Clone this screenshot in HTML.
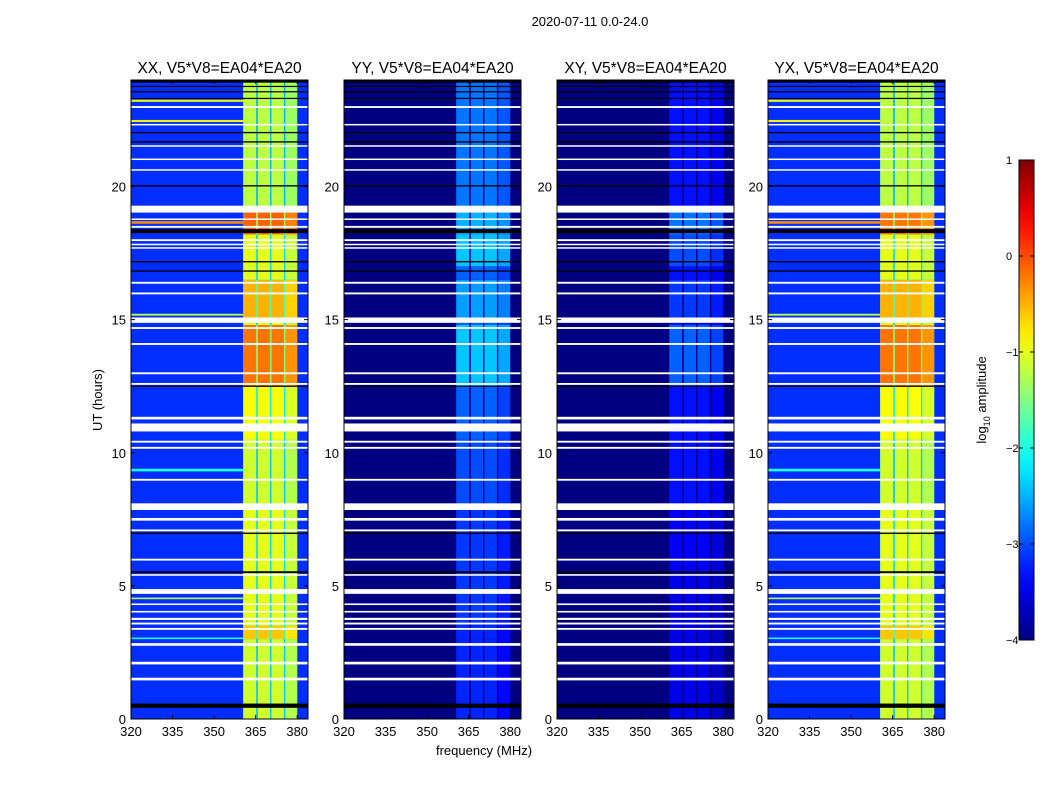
<!DOCTYPE html>
<html><head><meta charset="utf-8"><style>
body{margin:0;background:#fff;}
svg text{font-family:"Liberation Sans","DejaVu Sans",sans-serif;}
</style></head><body>
<svg id="fig" width="1050" height="800" xmlns="http://www.w3.org/2000/svg"></svg>
<script>
const panelNames=["XX, V5*V8=EA04*EA20","YY, V5*V8=EA04*EA20","XY, V5*V8=EA04*EA20","YX, V5*V8=EA04*EA20"];
const panelLeft=[131,344,557,768];
const xTicks=[320,335,350,365,380];
const yTicks=[0,5,10,15,20];
const cbTicks=[1,0,-1,-2,-3,-4];
const segBounds=[0,3,3.5,5.5,8,10.5,12.5,14.8,15,16.5,17,18.2,19.2,24];
const bandXX=[-1.1,-0.6,-1,-1,-1.1,-0.9,-0.2,-1,-0.5,-1,-1,-0.1,-1.2];
const bandYY=[-3.2,-3.2,-3.1,-3.1,-3.0,-2.9,-2.4,-2.9,-2.6,-2.9,-2.4,-2.5,-2.8];
const bandXY=[-3.5,-3.5,-3.5,-3.4,-3.3,-3.3,-2.9,-3.3,-3.1,-3.3,-3.0,-2.8,-3.3];
const bandYX=[-1.1,-0.6,-1,-1,-1.1,-0.9,-0.2,-1,-0.5,-1,-1,-0.2,-1.2];
const bgLevel=[-3.15,-4,-4,-3.15];
const subBands=[[360.5,365.2],[365.8,370.2],[370.7,375.2],[375.7,380]];
const rfiRows=[[23.18,23.26,-1],[22.42,22.5,-0.8],[18.6,18.7,-0.3],[15.15,15.22,-1.2],[9.3,9.4,-2],[4.5,4.56,-1.2],[3.0,3.06,-2]];
const whiteFlags=[[1.45,1.55],[2.05,2.15],[2.75,2.85],[3.35,3.42],[3.55,3.62],[3.72,3.8],[4.0,4.06],[4.28,4.34],[4.7,4.88],[5.38,5.44],[5.95,6.02],[7.05,7.12],[7.45,7.55],[7.85,8.1],[8.95,9.02],[10.15,10.22],[10.38,10.45],[10.8,11.1],[11.25,11.35],[12.55,12.62],[12.95,13.02],[14.05,14.12],[14.65,14.72],[14.88,15.08],[15.95,16.02],[16.35,16.42],[17.68,17.72],[17.8,17.85],[17.95,18.02],[18.45,18.52],[18.75,18.8],[19.02,19.28],[20.6,20.65],[21.0,21.05],[21.5,21.55],[22.3,22.35],[22.95,23.02]];
const blackFlags=[[0.42,0.58],[5.48,5.55],[6.95,7.0],[12.48,12.52],[16.8,16.85],[17.15,17.2],[18.25,18.4],[20.0,20.05],[21.65,21.7],[22.0,22.05],[23.3,23.33],[23.55,23.58],[23.75,23.78],[23.9,24]];
const bands=[bandXX,bandYY,bandXY,bandYX];

const NS="http://www.w3.org/2000/svg";
const svg=document.getElementById('fig');
const PW=177, TOP=80, BOT=719, FMIN=320, FMAX=383.9, HMAX=24;
function mk(tag,attrs,parent){const e=document.createElementNS(NS,tag);for(const k in attrs)e.setAttribute(k,attrs[k]);(parent||svg).appendChild(e);return e;}
function clip(v){return Math.max(0,Math.min(1,v));}
function jet(v){const t=clip((v+4)/5);const r=clip(1.5-Math.abs(4*t-3)),g=clip(1.5-Math.abs(4*t-2)),b=clip(1.5-Math.abs(4*t-1));return `rgb(${Math.round(r*255)},${Math.round(g*255)},${Math.round(b*255)})`;}
function yS(h){return BOT-(h/HMAX)*(BOT-TOP);}

const title=mk('text',{x:590,y:26,'font-size':13,'text-anchor':'middle'});
title.textContent="2020-07-11 0.0-24.0";



for(let p=0;p<4;p++){
  const L=panelLeft[p];
  const xS=f=>L+(f-FMIN)/(FMAX-FMIN)*PW;
  const g=mk('g',{});
  
  
  const bg=mk('rect',{x:L,y:TOP,width:PW,height:BOT-TOP,fill:jet(bgLevel[p])},g);
  
  
  if(p===0||p===3){
    for(const r of rfiRows){
      const e=mk('rect',{x:L,y:yS(r[1]),width:xS(360.5)-L,height:yS(r[0])-yS(r[1]),fill:jet(r[2])},g);
      
      
    }
  }
  for(let s=0;s<segBounds.length-1;s++){
    const v=bands[p][s];
    const y1=yS(segBounds[s+1]),y0=yS(segBounds[s]);
    const st=mk('rect',{x:xS(360.5),y:y1,width:xS(380)-xS(360.5),height:y0-y1,fill:jet(v-1.3)},g);
    
    
    subBands.forEach((sb,i)=>{
      const c=mk('rect',{x:xS(sb[0]),y:y1,width:xS(sb[1])-xS(sb[0]),height:y0-y1,fill:jet(v-(i===3?0.15:0))},g);
      
      
    });
  }
  for(const f of whiteFlags){
    const e=mk('rect',{x:L,y:yS(f[1]),width:PW,height:Math.max(1.5,yS(f[0])-yS(f[1])),fill:'#fff'},g);
    
    
  }
  for(const f of blackFlags){
    const e=mk('rect',{x:L,y:yS(f[1]),width:PW,height:Math.max(1.2,yS(f[0])-yS(f[1])),fill:'#000'},g);
    
    
  }
  const fr=mk('rect',{x:L,y:TOP,width:PW,height:BOT-TOP,fill:'none',stroke:'#000','stroke-width':1},g);
  
  
  const t=mk('text',{x:L+PW/2,y:73,'font-size':15.5,'text-anchor':'middle'},g);
  t.textContent=panelNames[p];
  
  
  for(const xt of xTicks){
    const x=xS(xt);
    mk('line',{x1:x,x2:x,y1:BOT,y2:BOT-4,stroke:'#000'},g);
    mk('line',{x1:x,x2:x,y1:TOP,y2:TOP+4,stroke:'#000'},g);
    const tl=mk('text',{x:x,y:BOT+17,'font-size':13,'text-anchor':'middle'},g);
    tl.textContent=xt;
    
    
  }
  for(const yt of yTicks){
    const y=yS(yt);
    mk('line',{x1:L,x2:L+4,y1:y,y2:y,stroke:'#000'},g);
    mk('line',{x1:L+PW,x2:L+PW-4,y1:y,y2:y,stroke:'#000'},g);
    const tl=mk('text',{x:L-5,y:y+5,'font-size':13,'text-anchor':'end'},g);
    tl.textContent=yt;
    
    
  }
}
const xl=mk('text',{x:484,y:755,'font-size':13,'text-anchor':'middle'});
xl.textContent="frequency (MHz)";


const yl=mk('text',{x:0,y:0,'font-size':13,'text-anchor':'middle',transform:'translate(102,400) rotate(-90)'});
yl.textContent="UT (hours)";



const defs=mk('defs',{});
const grad=mk('linearGradient',{id:'jetg',x1:0,y1:1,x2:0,y2:0},defs);
for(let i=0;i<=20;i++){mk('stop',{offset:i/20,'stop-color':jet(-4+5*i/20)},grad);}
const CB={x:1019,y:160,w:15,h:480};
const cb=mk('rect',{x:CB.x,y:CB.y,width:CB.w,height:CB.h,fill:'url(#jetg)',stroke:'#000'});


for(const v of cbTicks){
  const y=CB.y+(1-v)/5*CB.h;
  mk('line',{x1:CB.x,x2:CB.x+4,y1:y,y2:y,stroke:'#000'});
  mk('line',{x1:CB.x+CB.w,x2:CB.x+CB.w-4,y1:y,y2:y,stroke:'#000'});
  const tl=mk('text',{x:1006,y:y+4,'font-size':11});
  tl.textContent=v<0?'\u2212'+(-v):String(v);
  
  
}
const cl=mk('text',{x:0,y:0,'font-size':13,'text-anchor':'middle',transform:'translate(986,400) rotate(-90)'});
cl.innerHTML='log<tspan font-size="9" dy="4">10</tspan><tspan dy="-4"> amplitude</tspan>';


</script>
</body></html>
